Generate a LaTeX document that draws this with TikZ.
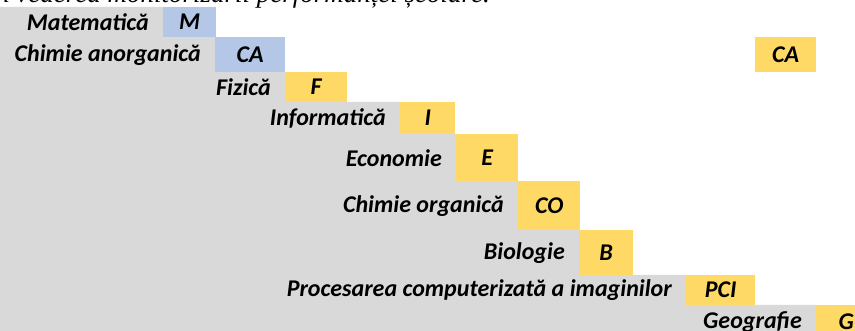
\documentclass[tikz,border=0pt]{standalone}
\usepackage{fontspec}
\setmainfont{Liberation Serif}
\newfontfamily\calibri{Carlito}
\usepackage{tikz}
\usetikzlibrary{positioning}
\definecolor{stairgray}{HTML}{D9D9D9}
\definecolor{boxblue}{HTML}{B4C7E7}
\definecolor{boxyellow}{HTML}{FFD966}
\tikzset{
  subj/.style={inner sep=0pt, font=\calibri\bfseries\itshape\fontsize{24}{28}\selectfont},
  abbr/.style={subj, anchor=north west},
  blue/.style={abbr, fill=boxblue},
  yellow/.style={abbr, fill=boxyellow},
  subjname/.style={subj, node distance=14pt},
}

\begin{document}
\begin{tikzpicture}[x=1pt, y=-1pt]
  \useasboundingbox (0,0) rectangle (855,331);
  \clip (0,0) rectangle (855,331);

  % cut-off caption line above the chart
  \node[anchor=base east, inner sep=0pt, font=\itshape\fontsize{27}{30}\selectfont] (caption) at (490,3)
    {în vederea monitorizării performanței școlare.};

  % staircase background
  \fill[stairgray] (0,7) -| (163,37) -| (215,72) -| (285,102) -| (400,134) -| (456,181)
    -| (518,230) -| (579,275) -| (686,305) -| (816,331) -- (0,331) -- cycle;

  \node[blue, minimum width=53pt, minimum height=30pt] (m) at (163,7) {M};
  \node[blue, minimum width=70pt, minimum height=35pt] (ca) at (215,37) {CA};
  \node[yellow, minimum width=61pt, minimum height=35pt] (ca2) at (755,37) {CA};
  \node[yellow, minimum width=62pt, minimum height=30pt] (f) at (285,72) {F};
  \node[yellow, minimum width=55pt, minimum height=32pt] (i) at (400,102) {I};
  \node[yellow, minimum width=62pt, minimum height=47pt] (e) at (456,134) {E};
  \node[yellow, minimum width=62pt, minimum height=49pt] (co) at (518,181) {CO};
  \node[yellow, minimum width=54pt, minimum height=45pt] (b) at (579,230) {B};
  \node[yellow, minimum width=69pt, minimum height=30pt] (pci) at (686,275) {PCI};
  \node[yellow, minimum width=60pt, minimum height=34pt] (g) at (816,305) {G};

  \node[subjname, left=of m] (mname) {Matematică};
  \node[subjname, left=of ca] (caname) {Chimie anorganică};
  \node[subjname, left=of f] (fname) {Fizică};
  \node[subjname, left=of i] (iname) {Informatică};
  \node[subjname, left=of e] (ename) {Economie};
  \node[subjname, left=of co] (coname) {Chimie organică};
  \node[subjname, left=of b] (bname) {Biologie};
  \node[subjname, left=of pci] (pciname) {Procesarea computerizată a imaginilor};
  \node[subjname, left=of g] (gname) {Geografie};

\end{tikzpicture}
\end{document}
